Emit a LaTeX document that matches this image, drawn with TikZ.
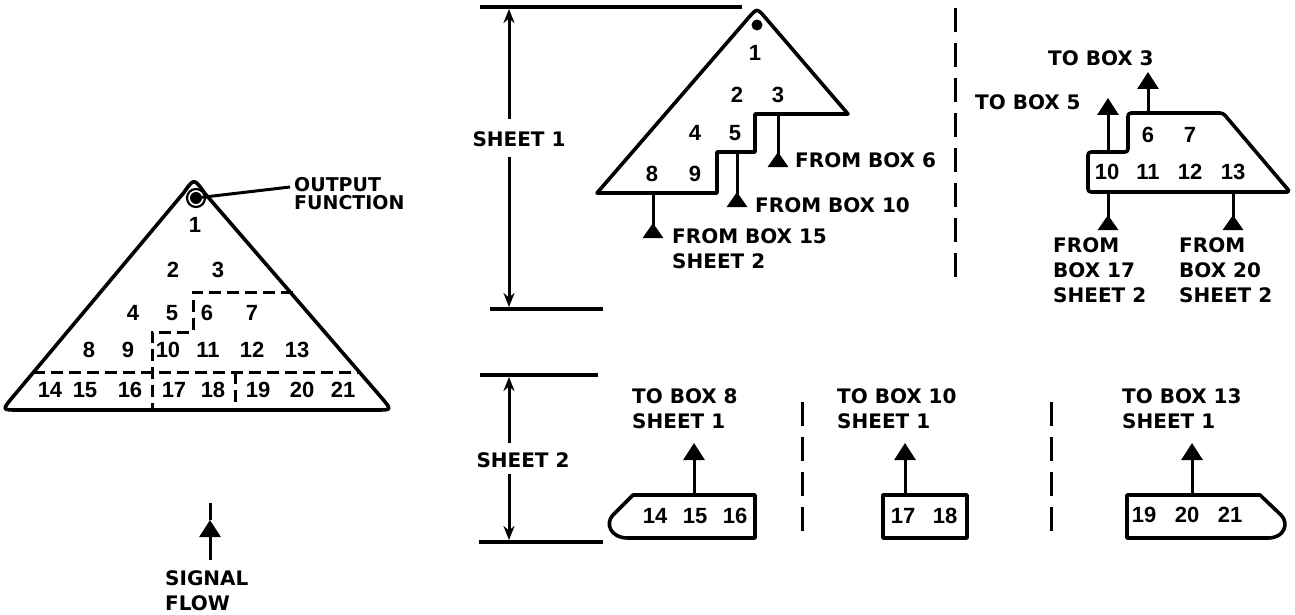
\documentclass[tikz,border=0pt]{standalone}
\usepackage{fontspec}
\setmainfont{DejaVu Sans}
\newfontfamily\numfont{Liberation Sans}[UprightFont={* Bold}]
\usetikzlibrary{arrows.meta}
\tikzset{
  lbl/.style={font=\bfseries\fontsize{20}{25}\selectfont, inner sep=0pt, align=left},
  num/.style={font=\numfont\fontsize{22}{24}\selectfont, inner sep=0pt},
  outline/.style={line width=3.6pt, line join=round},
  dline/.style={line width=3pt, dash pattern=on 12pt off 6pt},
  divider/.style={line width=3pt, dash pattern=on 24pt off 11pt},
  dim/.style={line width=3.2pt},
  dimarr/.style={line width=3pt, -{Stealth[length=14pt,width=11pt]}},
  toarr/.style={line width=3pt, -{Triangle[length=17pt,width=21pt]}},
  fromarr/.style={line width=3pt, {Triangle[reversed,length=15pt,width=20pt]}-},
}
\begin{document}
\begin{tikzpicture}[x=1pt,y=-1pt]
\useasboundingbox (0,0) rectangle (1295,615);

% ---------------- left triangle ----------------
\draw[outline] (183.5,193) .. controls (194,178) .. (204.5,193)
  -- (381.6,397.8) .. controls (392,410) .. (376,410)
  -- (18,410) .. controls (2,410) .. (12.2,397.7) -- cycle;
\draw[dline] (33,372) -- (360,372);
\draw[dline] (293,292) -- (193,292) -- (193,332) -- (152,332) -- (152,410);
\draw[dline] (235,372) -- (235,410);
\node[circle, fill, inner sep=0pt, minimum size=12pt] (dot) at (196,198) {};
\draw[line width=2.2pt] (dot.center) circle (9pt);
\node[lbl, anchor=north west, font=\bfseries\fontsize{19}{18}\selectfont] (out) at (294,177) {OUTPUT\\FUNCTION};
\coordinate (outend) at (290,187);
\draw[line width=3pt] (dot) -- (outend);
\foreach \t/\x/\y in {1/195/225, 2/173/270, 3/218/270, 4/133/313, 5/172/313, 6/207/313, 7/252/313,
  8/89/350, 9/128/350, 10/168/350, 11/208/350, 12/252/350, 13/297/350,
  14/50/390, 15/85/390, 16/130/390, 17/174/390, 18/213/390, 19/258/390, 20/302/390, 21/343/390}
  \node[num] (L\t) at (\x,\y) {\t};

% signal flow
\coordinate (sfb) at (210,560);
\coordinate (sftip) at (210,520);
\coordinate (sft) at (210,503);
\draw[toarr] (sfb) -- (sftip);
\draw[line width=3pt] (sftip) -- (sft);
\node[lbl, anchor=north west] (sflow) at (165,570) {SIGNAL\\FLOW};

% ---------------- sheet 1 dimension ----------------
\draw[dim] (480,7) -- (742,7);
\draw[dim] (490,309) -- (603,309);
\node[lbl] (s1lbl) at (519,139) {SHEET 1};
\coordinate (d1a) at (509,119); \coordinate (d1t) at (509,9);
\coordinate (d1b) at (509,157); \coordinate (d1u) at (509,307);
\draw[dimarr] (d1a) -- (d1t);
\draw[dimarr] (d1b) -- (d1u);

% ---------------- sheet 1 triangle ----------------
\draw[outline] (748.5,17.8) .. controls (757,8) .. (765.5,17.9)
  -- (848,114) -- (755,114) -- (755,152) -- (717,152) -- (717,193) -- (597,193) -- cycle;
\node[circle, fill, inner sep=0pt, minimum size=11pt] (dot1) at (757,25) {};
\foreach \t/\x/\y in {1/755/53, 2/737/95, 3/778/95, 4/695/133, 5/735/133, 8/652/174, 9/695/174}
  \node[num] (S\t) at (\x,\y) {\t};
\coordinate (f6a) at (778,167); \coordinate (f6b) at (778,114);
\coordinate (f10a) at (737,207); \coordinate (f10b) at (737,152);
\coordinate (f15a) at (653,238); \coordinate (f15b) at (653,193);
\draw[fromarr] (f6a) -- (f6b);
\draw[fromarr] (f10a) -- (f10b);
\draw[fromarr] (f15a) -- (f15b);
\node[lbl, anchor=west] (fb6) at (795,160) {FROM BOX 6};
\node[lbl, anchor=west] (fb10) at (755,205) {FROM BOX 10};
\node[lbl, anchor=north west] (fb15) at (672,228) {FROM BOX 15\\SHEET 2};

\draw[divider] (955,8) -- (955,285);

% ---------------- right partial block ----------------
\draw[outline, rounded corners=3pt] (1088,192) -- (1088,152) -- (1128,152) -- (1128,113)
  -- (1223,113) -- (1290,192) -- cycle;
\foreach \t/\x/\y in {6/1148/135, 7/1190/135, 10/1107/172, 11/1148/172, 12/1190/172, 13/1233/172}
  \node[num] (R\t) at (\x,\y) {\t};
\coordinate (t5a) at (1108,152); \coordinate (t5b) at (1108,98);
\coordinate (t3a) at (1148,113); \coordinate (t3b) at (1148,72);
\draw[toarr] (t5a) -- (t5b);
\draw[toarr] (t3a) -- (t3b);
\node[lbl, anchor=west] (tb5) at (975,102) {TO BOX 5};
\node[lbl, anchor=west] (tb3) at (1048,58) {TO BOX 3};
\coordinate (f17a) at (1108,230); \coordinate (f17b) at (1108,192);
\coordinate (f20a) at (1233,230); \coordinate (f20b) at (1233,192);
\draw[fromarr] (f17a) -- (f17b);
\draw[fromarr] (f20a) -- (f20b);
\node[lbl, anchor=north west] (fb17) at (1053,237) {FROM\\BOX 17\\SHEET 2};
\node[lbl, anchor=north west] (fb20) at (1179,237) {FROM\\BOX 20\\SHEET 2};

% ---------------- sheet 2 dimension ----------------
\draw[dim] (480,375) -- (598,375);
\draw[dim] (479,542) -- (603,542);
\node[lbl] (s2lbl) at (523,460) {SHEET 2};
\coordinate (d2a) at (509,443); \coordinate (d2t) at (509,377);
\coordinate (d2b) at (509,474); \coordinate (d2u) at (509,540);
\draw[dimarr] (d2a) -- (d2t);
\draw[dimarr] (d2b) -- (d2u);

% ---------------- sheet 2 boxes ----------------
\draw[outline] (633,495) -- (755,495) -- (755,538) -- (628,538)
  .. controls (610,538) and (605,523) .. (613,515) -- cycle;
\draw[outline] (883,495) rectangle (967,538);
\draw[outline] (1127,495) -- (1260,495) -- (1281,515)
  .. controls (1289,523) and (1285,538) .. (1268,538) -- (1127,538) -- cycle;
\foreach \t/\x/\y in {14/655/516, 15/695/516, 16/735/516, 17/903/516, 18/945/516, 19/1144/515, 20/1187/515, 21/1230/515}
  \node[num] (B\t) at (\x,\y) {\t};
\coordinate (t8a) at (694,495); \coordinate (t8b) at (694,443);
\coordinate (t10a) at (905,495); \coordinate (t10b) at (905,443);
\coordinate (t13a) at (1192,495); \coordinate (t13b) at (1192,443);
\draw[toarr] (t8a) -- (t8b);
\draw[toarr] (t10a) -- (t10b);
\draw[toarr] (t13a) -- (t13b);
\node[lbl, anchor=north west] (tb8) at (632,388) {TO BOX 8\\SHEET 1};
\node[lbl, anchor=north west] (tb10) at (837,388) {TO BOX 10\\SHEET 1};
\node[lbl, anchor=north west] (tb13) at (1122,388) {TO BOX 13\\SHEET 1};

\draw[divider] (802,402) -- (802,535);
\draw[divider] (1051,402) -- (1051,535);
\end{tikzpicture}
\end{document}
